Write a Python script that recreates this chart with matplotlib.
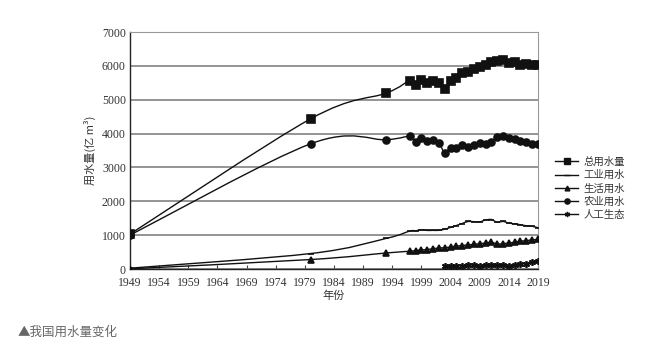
import numpy as np
import matplotlib.pyplot as plt
from matplotlib.path import Path
from matplotlib.patches import PathPatch
from matplotlib.lines import Line2D

plt.rcParams['font.family'] = ['Noto Sans CJK SC', 'DejaVu Sans']

# data (亿 m3)
years = [1949, 1980, 1993, 1997, 1998, 1999, 2000, 2001, 2002, 2003, 2004, 2005,
         2006, 2007, 2008, 2009, 2010, 2011, 2012, 2013, 2014, 2015, 2016, 2017,
         2018, 2019]
total = [1031, 4437, 5198, 5566, 5435, 5591, 5498, 5567, 5497, 5320, 5548, 5633,
         5795, 5819, 5910, 5965, 6022, 6107, 6131, 6183, 6095, 6103, 6040, 6043,
         6016, 6021]
industry = [24, 457, 906, 1121, 1126, 1159, 1139, 1142, 1142, 1177, 1229, 1285,
            1344, 1404, 1397, 1391, 1447, 1462, 1381, 1406, 1356, 1335, 1308, 1277,
            1262, 1218]
domestic = [6, 280, 474, 525, 545, 563, 575, 600, 619, 630, 651, 675,
            694, 710, 729, 748, 766, 790, 739, 750, 767, 793, 822, 838,
            860, 872]
agri = [1001, 3699, 3818, 3920, 3766, 3869, 3784, 3825, 3736, 3433, 3586, 3580,
        3664, 3602, 3663, 3723, 3689, 3743, 3902, 3922, 3869, 3852, 3768, 3766,
        3693, 3682]
eco_years = list(range(2003, 2020))
eco = [79, 82, 93, 93, 106, 120, 103, 120, 112, 109, 105, 103, 123, 143, 162, 201, 250]

labels = ['总用水量', '工业用水', '生活用水', '农业用水', '人工生态']
xticks = list(range(1949, 2020, 5))


def smooth_path(x, y):
    # Catmull-Rom style bezier through the points (like Excel "smoothed line")
    p = np.column_stack([x, y]).astype(float)
    n = len(p)
    verts = [p[0]]
    codes = [Path.MOVETO]
    for i in range(n - 1):
        p0 = p[i - 1] if i > 0 else p[i]
        p3 = p[i + 2] if i + 2 < n else p[i + 1]
        c1 = p[i] + (p[i + 1] - p0) / 6
        c2 = p[i + 1] - (p3 - p[i]) / 6
        verts += [c1, c2, p[i + 1]]
        codes += [Path.CURVE4] * 3
    return Path(verts, codes)


fig = plt.figure(figsize=(6.54, 3.51), dpi=100)
ax = fig.add_axes([0.1988, 0.2336, 0.6238, 0.6752])

series = [
    (years, total, 's', 5.2),
    (years, industry, '_', 5),
    (years, domestic, '^', 4.6),
    (years, agri, 'o', 5),
    (eco_years, eco, (6, 2, 0), 5),
]
handles = []
for (xs, ys, mk, ms), lab in zip(series, labels):
    ax.add_patch(PathPatch(smooth_path(xs, ys), fill=False, edgecolor='#111111',
                           lw=1.0, zorder=3))
    ax.plot(xs, ys, ls='none', marker=mk, ms=ms, color='#111111',
            mec='#111111', mew=1.2, zorder=4)
    handles.append(Line2D([], [], color='#111111', lw=1.0, marker=mk,
                          ms=ms * 0.75, mew=1.0))

ax.set_xlim(1949, 2019)
ax.set_ylim(0, 7000)
ax.set_xticks(xticks)
ax.set_yticks(range(0, 7001, 1000))
ax.yaxis.grid(True, color='#777777', lw=1.1)
ax.set_axisbelow(True)
for s in ['top', 'right']:
    ax.spines[s].set_color('#999999')
for s in ['left', 'bottom']:
    ax.spines[s].set_color('#222222')
    ax.spines[s].set_linewidth(1.0)
ax.tick_params(axis='x', direction='in', length=3, color='#444444', pad=6)
ax.tick_params(axis='y', length=0, pad=3)
for t in ax.get_xticklabels() + ax.get_yticklabels():
    t.set_fontfamily('Liberation Serif')
    t.set_fontsize(8.5)
    t.set_color('#333333')

ax.set_xlabel('年份', fontsize=8, color='#333333', labelpad=1)
ax.set_ylabel('用水量(亿 m³)', fontsize=8, color='#333333', labelpad=4)

fig.legend(handles, labels, loc='upper left', bbox_to_anchor=(0.835, 0.58),
           frameon=False, fontsize=7.5, handlelength=2.2, labelspacing=0.3,
           handletextpad=0.5, labelcolor='#333333')

fig.text(0.027, 0.043, '▲我国用水量变化', fontsize=9, color='#666666')

fig.savefig('out.png', dpi=100)
